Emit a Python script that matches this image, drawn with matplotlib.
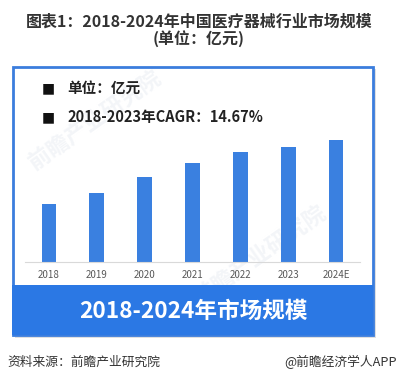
import matplotlib
matplotlib.use('Agg')
import matplotlib.pyplot as plt
from matplotlib.patches import Rectangle

plt.rcParams['font.family'] = ['Noto Sans CJK SC', 'DejaVu Sans']

# data (亿元)
years = ['2018', '2019', '2020', '2021', '2022', '2023', '2024E']
market_size = [5304, 6285, 7765, 9070, 10060, 10524, 11120]

title_line1 = '图表1：2018-2024年中国医疗器械行业市场规模'
title_line2 = '(单位：亿元)'
note_unit = '单位：亿元'
note_cagr = '2018-2023年CAGR：14.67%'
band_text = '2018-2024年市场规模'
source_text = '资料来源：前瞻产业研究院'
brand_text = '@前瞻经济学人APP'

W, H = 398, 383
BLUE = '#2b78e4'
BAR_BLUE = '#3a80e0'


def fx(x):
    return x / W


def fy(y):
    return 1 - y / H


fig = plt.figure(figsize=(W / 100, H / 100), dpi=100)
fig.patch.set_facecolor('white')

# titles
fig.text(fx(199), fy(22), title_line1, ha='center', va='center',
         fontsize=11.5, fontweight='bold', color='#333333')
fig.text(fx(199), fy(39), title_line2, ha='center', va='center',
         fontsize=11.5, fontweight='bold', color='#333333')

# shadow + outlined box
fig.patches.append(Rectangle((fx(15), fy(338)), fx(361), (338 - 69) / H,
                             transform=fig.transFigure, facecolor='#d4d4d4',
                             edgecolor='none', alpha=0.7, zorder=0))
fig.patches.append(Rectangle((fx(13), fy(335)), fx(360), (335 - 67) / H,
                             transform=fig.transFigure, facecolor='white',
                             edgecolor='#3b7ddd', linewidth=2, zorder=1))
# blue band at the bottom of the box
fig.patches.append(Rectangle((fx(12), fy(335)), fx(361), 50 / H,
                             transform=fig.transFigure, facecolor=BLUE,
                             edgecolor='none', zorder=2))

# faint watermarks
fig.text(fx(95), fy(120), '前瞻产业研究院', rotation=35, ha='center', va='center',
         fontsize=16, fontweight='bold', color='#f3f5f8', zorder=1.5)
fig.text(fx(260), fy(255), '前瞻产业研究院', rotation=35, ha='center', va='center',
         fontsize=16, fontweight='bold', color='#f3f5f8', zorder=1.5)

# notes
for y, txt in [(88, note_unit), (117, note_cagr)]:
    fig.text(fx(48), fy(y), '■', ha='center', va='center', fontsize=10,
             color='#111111', family='DejaVu Sans', zorder=3)
    fig.text(fx(67), fy(y), txt, ha='left', va='center', fontsize=10.5,
             fontweight='bold', color='#222222', zorder=3)

# bar chart
ax = fig.add_axes([fx(25), fy(262), fx(335), 132 / H])
ax.set_zorder(3)
ax.patch.set_alpha(0)
ax.bar(range(len(years)), market_size, width=0.31, color=BAR_BLUE, zorder=2)
ax.set_xlim(-0.5, len(years) - 0.5)
ax.set_ylim(0, 12065)
ax.set_xticks(range(len(years)))
ax.set_xticklabels(years, fontsize=7, color='#595959')
ax.tick_params(axis='x', length=0, pad=6)
ax.set_yticks([])
for s in ['top', 'left', 'right']:
    ax.spines[s].set_visible(False)
ax.spines['bottom'].set_color('#d9d9d9')
ax.spines['bottom'].set_linewidth(0.8)

# band text
fig.text(fx(193), fy(311), band_text, ha='center', va='center',
         fontsize=16.3, fontweight='bold', color='white', zorder=4)

# footer
fig.text(fx(7), fy(362), source_text, ha='left', va='center',
         fontsize=9.2, color='#333333')
fig.text(fx(397), fy(362), brand_text, ha='right', va='center',
         fontsize=9.2, color='#333333')

fig.savefig('out.png', dpi=100, facecolor='white')
